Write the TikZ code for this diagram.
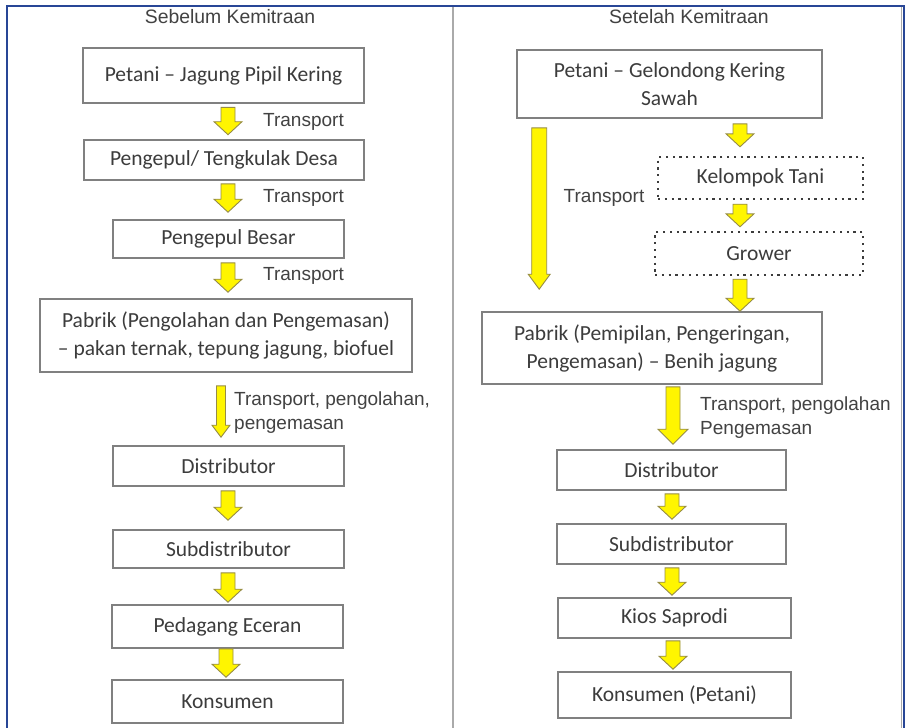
\documentclass[tikz,border=0pt]{standalone}
\usepackage{fontspec}
\setmainfont{Carlito}
\newfontfamily\labelfont{Liberation Sans}
\usetikzlibrary{calc}

\definecolor{boxline}{RGB}{128,128,128}
\definecolor{boxtext}{RGB}{60,60,60}
\definecolor{labeltext}{RGB}{66,66,66}
\definecolor{framblue}{RGB}{40,70,150}
\definecolor{divgray}{RGB}{170,170,170}
\definecolor{arrowfill}{RGB}{255,245,0}
\definecolor{arrowline}{RGB}{150,140,70}

\tikzset{
  stage/.style={draw=boxline, line width=1.6pt, fill=white, text=boxtext,
    inner sep=0pt, align=center, font=\fontsize{21.5}{28}\selectfont},
  dotstage/.style={stage, draw=boxtext, line width=2.4pt,
    dash pattern=on 2.2pt off 4.6pt},
  steplabel/.style={text=labeltext, inner sep=0pt, align=left,
    font=\labelfont\fontsize{19}{24}\selectfont},
  heading/.style={text=labeltext, inner sep=0pt,
    font=\labelfont\fontsize{19.4}{24}\selectfont},
  fatarrow/.style={draw=arrowline, fill=arrowfill, line width=0.9pt, line join=miter}
}

% vertical block arrow: half shaft width, half head width, head length, start, end
\newcommand{\fatarrow}[5]{%
  \path[fatarrow] let \p1=(#4), \p2=(#5) in
    (\x1-#1,\y1) -- (\x1+#1,\y1) -- (\x1+#1,\y2+#3) -- (\x1+#2,\y2+#3)
    -- (\x1,\y2) -- (\x1-#2,\y2+#3) -- (\x1-#1,\y2+#3) -- cycle;}

\begin{document}
\begin{tikzpicture}[x=1pt,y=-1pt]
\useasboundingbox[fill=white] (0,0) rectangle (905,728);

% frame and column divider
\draw[divgray, line width=2pt] (453,6) -- (453,728);
\draw[divgray, line width=1pt] (901.5,6) -- (901.5,728);
\draw[framblue, line width=1.6pt] (7,728) -- (7,6) -- (904,6) -- (904,728);

% headings
\node[heading] (hl) at (230,17) {Sebelum Kemitraan};
\node[heading] (hr) at (689,17) {Setelah Kemitraan};

% ---------- before partnership ----------
\node[stage, minimum width=281pt, minimum height=55pt] (b1) at (223.5,75.5) {Petani -- Jagung Pipil Kering};
\node[stage, minimum width=280pt, minimum height=40pt] (b2) at (224,160) {Pengepul/ Tengkulak Desa};
\node[stage, minimum width=231pt, minimum height=38pt] (b3) at (228.5,239) {Pengepul Besar};
\node[stage, minimum width=372pt, minimum height=73pt] (b4) at (226,335.5) {Pabrik (Pengolahan dan Pengemasan)\\-- pakan ternak, tepung jagung, biofuel};
\node[stage, minimum width=231pt, minimum height=40pt] (b5) at (228.5,466) {Distributor};
\node[stage, minimum width=231pt, minimum height=38pt] (b6) at (228.5,549) {Subdistributor};
\node[stage, minimum width=231pt, minimum height=43pt] (b7) at (227.5,626.5) {Pedagang Eceran};
\node[stage, minimum width=231pt, minimum height=43pt] (b8) at (227.5,701.5) {Konsumen};

\fatarrow{7pt}{14pt}{13pt}{$(b1.south)+(4.5,3.5)$}{$(b2.north)+(4.5,-4.5)$}
\fatarrow{7pt}{14pt}{13pt}{$(b2.south)+(4,3)$}{$(b3.north)+(-0.5,-7)$}
\fatarrow{7pt}{14pt}{13pt}{$(b3.south)+(-0.5,4)$}{$(b4.north)+(2,-6)$}
\fatarrow{4.5pt}{9pt}{12pt}{$(b4.south)+(-5,13)$}{$(b5.north)+(-7.5,-8)$}
\fatarrow{7pt}{14pt}{13pt}{$(b5.south)+(-0.5,4)$}{$(b6.north)+(-0.5,-9)$}
\fatarrow{7pt}{14pt}{13pt}{$(b6.south)+(-0.5,4)$}{$(b7.north)+(0.5,-2)$}
\fatarrow{7pt}{14pt}{13pt}{$(b7.south)+(-1.5,0)$}{$(b8.north)+(-1.5,-2)$}

\node[steplabel] (t1) at (303.5,122) {Transport};
\node[steplabel] (t2) at (303.5,198) {Transport};
\node[steplabel] (t3) at (303.5,276) {Transport};
\node[steplabel, anchor=west] (t4) at (234,413) {Transport, pengolahan,\\pengemasan};

% ---------- after partnership ----------
\node[stage, minimum width=305pt, minimum height=68pt] (r1) at (669.5,84) {Petani -- Gelondong Kering\\Sawah};
\node[dotstage, minimum width=205pt, minimum height=42pt] (k1) at (760.5,178) {Kelompok Tani};
\node[dotstage, minimum width=208pt, minimum height=43pt] (g1) at (759,253.5) {Grower};
\node[stage, minimum width=340pt, minimum height=72pt] (r2) at (652,348) {Pabrik (Pemipilan, Pengeringan,\\Pengemasan) -- Benih jagung};
\node[stage, minimum width=229pt, minimum height=40pt] (r3) at (671.5,470) {Distributor};
\node[stage, minimum width=229pt, minimum height=40pt] (r4) at (671.5,544) {Subdistributor};
\node[stage, minimum width=233pt, minimum height=40pt] (r5) at (674.5,618) {Kios Saprodi};
\node[stage, minimum width=233pt, minimum height=46pt] (r6) at (674.5,695) {Konsumen (Petani)};

\fatarrow{7.5pt}{11pt}{15pt}{$(r1.south west)+(23,9)$}{$(r2.north west)+(58,-22)$}
\fatarrow{7pt}{14pt}{13pt}{$(r1.south)+(70.5,5)$}{$(k1.north)+(-20.5,-9)$}
\fatarrow{7pt}{14pt}{13pt}{$(k1.south)+(-20.5,4)$}{$(g1.north)+(-19,-4)$}
\fatarrow{7pt}{14pt}{13pt}{$(g1.south)+(-19,3)$}{$(r2.north)+(88,0)$}
\fatarrow{7pt}{15pt}{15pt}{$(r2.south)+(21,2)$}{$(r3.north)+(1.5,-5)$}
\fatarrow{7pt}{14pt}{13pt}{$(r3.south)+(0.5,3)$}{$(r4.north)+(0.5,-4)$}
\fatarrow{7pt}{14pt}{13pt}{$(r4.south)+(0.5,3)$}{$(r5.north)+(-2.5,-2)$}
\fatarrow{7pt}{14pt}{13pt}{$(r5.south)+(-1.5,2)$}{$(r6.north)+(-1.5,-2)$}

\node[steplabel] (t5) at (604,198) {Transport};
\node[steplabel, anchor=west] (t6) at (700,417.5) {Transport, pengolahan\\Pengemasan};
\end{tikzpicture}
\end{document}
